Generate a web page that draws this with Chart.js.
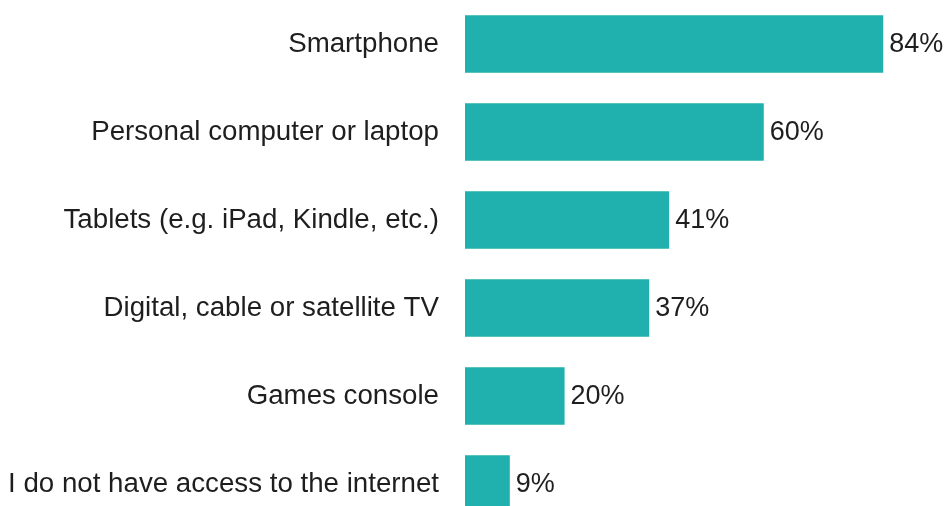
<!DOCTYPE html>
<html>
<head>
<meta charset="utf-8">
<script src="https://cdn.jsdelivr.net/npm/chart.js@4"></script>
<style>
  html, body { margin: 0; padding: 0; background: #fff; overflow: hidden; }
  .wrap { width: 947px; height: 506px; overflow: hidden; }
  .box { position: relative; width: 947px; height: 528px; }
</style>
</head>
<body>
<div class="wrap"><div class="box"><canvas id="devices"></canvas></div></div>
<script>
const categories = [
    "Smartphone",
    "Personal computer or laptop",
    "Tablets (e.g. iPad, Kindle, etc.)",
    "Digital, cable or satellite TV",
    "Games console",
    "I do not have access to the internet"
];
const shares = [84, 60, 41, 37, 20, 9];

const barColor = "#20b0ad";
const textColor = "#1e1e1e";
const fontFamily = "'Liberation Sans', Arial, sans-serif";

// percentage text just past the end of each bar
const valueLabels = {
    id: "valueLabels",
    afterDatasetsDraw(chart) {
        const ctx = chart.ctx;
        const meta = chart.getDatasetMeta(0);
        ctx.save();
        ctx.font = "27px " + fontFamily;
        ctx.fillStyle = textColor;
        ctx.textAlign = "left";
        ctx.textBaseline = "middle";
        meta.data.forEach((bar, i) => {
            ctx.fillText(shares[i] + "%", bar.x + 6, bar.y + 1);
        });
        ctx.restore();
    }
};

new Chart(document.getElementById("devices"), {
    type: "bar",
    data: {
        labels: categories,
        datasets: [{
            data: shares,
            backgroundColor: barColor,
            borderWidth: 0,
            categoryPercentage: 1,
            barPercentage: 0.655
        }]
    },
    options: {
        indexAxis: "y",
        responsive: true,
        maintainAspectRatio: false,
        animation: false,
        layout: { padding: { left: 0, right: 4, top: 0, bottom: 0 } },
        plugins: {
            legend: { display: false },
            tooltip: { enabled: false }
        },
        scales: {
            x: {
                display: false,
                min: 0,
                max: 96
            },
            y: {
                grid: { display: false, drawTicks: true, tickLength: 26 },
                border: { display: false },
                afterFit(axis) {
                    axis.width = 465;
                    axis.paddingTop = 0;
                    axis.paddingBottom = 0;
                },
                ticks: {
                    padding: 0,
                    color: textColor,
                    font: { family: fontFamily, size: 27.7 }
                }
            }
        }
    },
    plugins: [valueLabels]
});
</script>
</body>
</html>
